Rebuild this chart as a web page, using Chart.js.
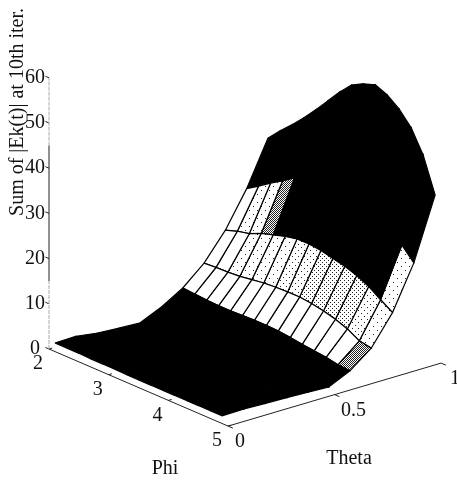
<!DOCTYPE html>
<html>
<head>
<meta charset="utf-8">
<title>Sum of |Ek(t)| at 10th iter.</title>
<style>
  html, body { margin: 0; padding: 0; background: #fff; }
  canvas { display: block; }
</style>
<script src="https://cdn.jsdelivr.net/npm/chart.js@4/dist/chart.umd.min.js"></script>
</head>
<body>
<canvas id="surfaceChart" width="457" height="480"></canvas>
<script>
const phiValues   = [2.1, 2.3, 2.5, 2.7, 2.9, 3.1, 3.3, 3.5, 3.7, 3.9, 4.1, 4.3, 4.5, 4.7, 4.9];
const thetaValues = [0, 0.1, 0.2, 0.3, 0.4, 0.5, 0.6, 0.7, 0.8, 0.9, 1];

// one row per theta, one column per phi
const sumEk = [
  [1.9, 1.9, 1.9, 1.8, 1.8, 1.8, 1.7, 1.7, 1.7, 1.7, 1.7, 1.7, 1.7, 1.7, 1.7],
  [2.0, 2.0, 2.0, 1.9, 1.9, 1.9, 1.9, 1.9, 1.9, 1.9, 1.9, 1.8, 1.8, 1.8, 1.8],
  [1.3, 1.5, 1.6, 1.7, 1.7, 1.8, 1.8, 1.8, 1.8, 1.8, 1.8, 1.7, 1.7, 1.6, 1.6],
  [1.0, 1.2, 1.4, 1.5, 1.6, 1.7, 1.7, 1.7, 1.7, 1.7, 1.6, 1.6, 1.5, 1.5, 1.5],
  [0.8, 1.0, 1.3, 1.5, 1.6, 1.7, 1.8, 1.8, 1.8, 1.7, 1.7, 1.6, 1.5, 1.4, 1.3],
  [2.9, 3.0, 3.0, 2.9, 2.9, 2.9, 3.0, 3.0, 2.9, 2.8, 2.6, 2.3, 2.0, 1.5, 1.1],
  [5.7, 5.5, 5.3, 5.2, 5.2, 5.3, 5.4, 5.4, 5.3, 5.0, 4.6, 4.3, 4.0, 3.5, 3.3],
  [9.8, 10.0, 10.1, 10.3, 10.7, 11.1, 11.3, 11.4, 11.4, 11.1, 10.6, 9.9, 8.9, 7.4, 6.9],
  [15.7, 16.6, 17.2, 18.4, 19.2, 20.0, 20.6, 20.6, 20.3, 19.7, 19.1, 18.2, 16.9, 15.1, 13.4],
  [23.5, 25.2, 27.0, 28.6, 30.4, 32.5, 34.0, 35.0, 35.2, 35.0, 34.0, 32.5, 30.0, 25.8, 23.0],
  [33.3, 36.0, 38.5, 41.2, 44.1, 47.2, 50.3, 53.0, 54.4, 55.3, 54.2, 52.2, 49.2, 44.3, 36.6]
];

// shade level of each mesh cell: 0 white ... 4 grey, 5 black
const cellShades = [
  [5, 5, 5, 5, 5, 5, 5, 5, 5, 5, 5, 5, 5, 5],
  [5, 5, 5, 5, 5, 5, 5, 5, 5, 5, 5, 5, 5, 5],
  [5, 5, 5, 5, 5, 5, 5, 5, 5, 5, 5, 5, 5, 5],
  [5, 5, 5, 5, 5, 5, 5, 5, 5, 5, 5, 5, 5, 5],
  [5, 5, 5, 5, 5, 5, 5, 5, 5, 5, 5, 5, 5, 5],
  [5, 5, 5, 5, 5, 5, 5, 5, 5, 5, 5, 5, 5, 5],
  [0, 0, 0, 0, 0, 0, 0, 0, 0, 0, 0, 0, 0, 4],
  [0, 0, 1, 1, 1, 1, 2, 2, 3, 3, 3, 3, 2, 1],
  [0, 1, 1, 4, 5, 5, 5, 5, 5, 5, 5, 5, 5, 1],
  [5, 5, 5, 5, 5, 5, 5, 5, 5, 5, 5, 5, 5, 5]
];

const zTicks     = [0, 10, 20, 30, 40, 50, 60];
const phiTicks   = [2, 3, 4, 5];
const thetaTicks = [0, 0.5, 1];

const zAxisTitle     = 'Sum of |Ek(t)| at 10th iter.';
const phiAxisTitle   = 'Phi';
const thetaAxisTitle = 'Theta';

// ── Oblique view of the box ───────────────────────────
function project(phi, theta, z) {
  return {
    x: 49 + (phi - 2) * 59.7 + theta * 213,
    y: 349 + (phi - 2) * 25.7 - theta * 63 - z * 4.52
  };
}

// ── Dither tiles for the shaded cells ─────────────────
function stipple(size, dots) {
  const tile = document.createElement('canvas');
  tile.width = tile.height = size;
  const c = tile.getContext('2d');
  c.fillStyle = '#fff';
  c.fillRect(0, 0, size, size);
  c.fillStyle = '#222';
  dots.forEach(d => c.fillRect(d[0], d[1], 1, 1));
  return document.createElement('canvas').getContext('2d').createPattern(tile, 'repeat');
}

const shadeFills = [
  '#fff',
  stipple(8, [[1, 2], [5, 6]]),
  stipple(6, [[1, 1], [4, 4]]),
  stipple(4, [[0, 0], [2, 2]]),
  stipple(2, [[0, 0], [1, 1]]),
  '#000'
];

// ── Datasets: first in the list is painted last ───────
const datasets = [];

function axisLine(points, color, dash) {
  datasets.push({
    data: points,
    showLine: true,
    fill: false,
    borderColor: color || '#222',
    borderWidth: 1,
    borderDash: dash || [],
    pointRadius: 0
  });
}

for (let t = 0; t < thetaValues.length - 1; t++) {
  for (let p = 0; p < phiValues.length - 1; p++) {
    const fill = shadeFills[cellShades[t][p]];
    datasets.push({
      data: [
        project(phiValues[p], thetaValues[t], sumEk[t][p]),
        project(phiValues[p + 1], thetaValues[t], sumEk[t][p + 1]),
        project(phiValues[p + 1], thetaValues[t + 1], sumEk[t + 1][p + 1]),
        project(phiValues[p], thetaValues[t + 1], sumEk[t + 1][p]),
        project(phiValues[p], thetaValues[t], sumEk[t][p])
      ],
      showLine: true,
      fill: 'shape',
      backgroundColor: fill,
      borderColor: '#000',
      borderWidth: 1.2,
      pointRadius: 0
    });
  }
}

// z axis looks washed out at both ends in the scan
axisLine([project(2, 0, 0), project(2, 0, 15)], '#aaa', [4, 1]);
axisLine([project(2, 0, 15), project(2, 0, 45)], '#222');
axisLine([project(2, 0, 45), project(2, 0, 60)], '#aaa', [4, 1]);
axisLine([project(2, 0, 0), project(5, 0, 0)]);
axisLine([project(5, 0, 0), project(5, 1, 0)]);

zTicks.forEach(z => axisLine([project(2, 0, z), project(1.94, 0, z)]));
phiTicks.forEach(phi => axisLine([project(phi, 0, 0), project(phi, 0.015, 0)]));
thetaTicks.forEach(theta => axisLine([project(5, theta, 0), project(5.08, theta, 0)]));

// ── Tick labels and axis titles ───────────────────────
const boxText = {
  id: 'boxText',
  afterDraw(chart) {
    const { ctx, scales: { x, y } } = chart;
    const px = pt => ({ x: x.getPixelForValue(pt.x), y: y.getPixelForValue(pt.y) });
    const label = (text, pos, dx, dy) => ctx.fillText(text, pos.x + dx, pos.y + dy);

    ctx.save();
    ctx.font = '20px "Liberation Serif"';
    ctx.fillStyle = '#111';
    ctx.textAlign = 'center';
    ctx.textBaseline = 'middle';

    zTicks.forEach(z => label(String(z), px(project(2, 0, z)), -14, 0));
    phiTicks.forEach(phi => label(String(phi), px(project(phi, 0, 0)), -11, 15));
    const thetaDx = [12, 19, 14];
    thetaTicks.forEach((theta, i) => label(String(theta), px(project(5, theta, 0)), thetaDx[i], 16));

    label(phiAxisTitle, px({ x: 165, y: 469 }), 0, 0);
    label(thetaAxisTitle, px({ x: 349, y: 459 }), 0, 0);

    const titlePos = px({ x: 18, y: 112 });
    ctx.translate(titlePos.x, titlePos.y);
    ctx.rotate(-Math.PI / 2);
    ctx.fillText(zAxisTitle, 0, 0);
    ctx.restore();
  }
};

new Chart(document.getElementById('surfaceChart').getContext('2d'), {
  type: 'scatter',
  data: { datasets },
  plugins: [boxText],
  options: {
    responsive: false,
    animation: false,
    layout: { padding: 0 },
    elements: { line: { tension: 0 } },
    plugins: {
      legend: { display: false },
      tooltip: { enabled: false }
    },
    scales: {
      x: { type: 'linear', min: 0, max: 457, display: false },
      y: { type: 'linear', min: 0, max: 480, reverse: true, display: false }
    }
  }
});
</script>
</body>
</html>
